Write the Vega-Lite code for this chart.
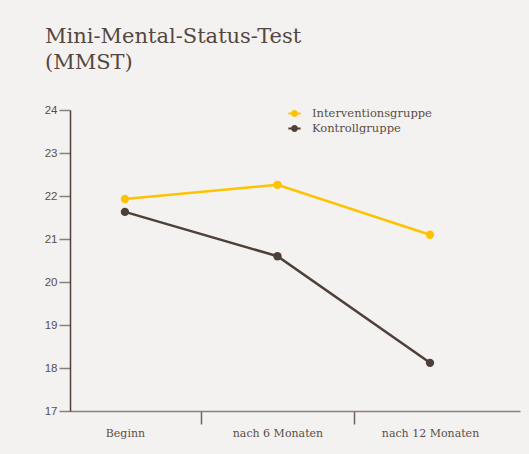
{
  "$schema": "https://vega.github.io/schema/vega-lite/v6.json",
  "autosize": "none",
  "width": 450,
  "height": 301,
  "padding": {"left": 70, "top": 110, "right": 9, "bottom": 43},
  "background": "#f4f2f0",
  "title": {
    "text": ["Mini-Mental-Status-Test", "(MMST)"],
    "anchor": "start",
    "frame": "group",
    "font": "DejaVu Serif",
    "fontSize": 21,
    "fontWeight": "normal",
    "color": "#54473f",
    "lineHeight": 26,
    "dx": -25,
    "offset": 31
  },
  "data": {
    "values": [
      {"monat": 0, "gruppe": "Interventionsgruppe", "mmst": 21.93},
      {"monat": 6, "gruppe": "Interventionsgruppe", "mmst": 22.26},
      {"monat": 12, "gruppe": "Interventionsgruppe", "mmst": 21.1},
      {"monat": 0, "gruppe": "Kontrollgruppe", "mmst": 21.63},
      {"monat": 6, "gruppe": "Kontrollgruppe", "mmst": 20.6},
      {"monat": 12, "gruppe": "Kontrollgruppe", "mmst": 18.12}
    ]
  },
  "config": {
    "view": {"stroke": null},
    "axis": {"grid": false}
  },
  "encoding": {
    "x": {
      "field": "monat",
      "type": "quantitative",
      "scale": {"domain": [-2.16, 15.54], "nice": false, "zero": false},
      "axis": {
        "title": null,
        "values": [0, 3, 6, 9, 12],
        "labelExpr": "datum.value == 0 ? 'Beginn' : datum.value == 6 ? 'nach 6 Monaten' : datum.value == 12 ? 'nach 12 Monaten' : ''",
        "labelFont": "DejaVu Serif",
        "labelFontSize": 11,
        "labelColor": "#5a4e47",
        "labelPadding": 3,
        "labelFlush": false,
        "labelOverlap": false,
        "tickSize": 13,
        "tickWidth": 1.5,
        "tickColor": "#6e625b",
        "tickOpacity": {"condition": {"test": "datum.value % 6 === 0", "value": 0}, "value": 1},
        "domainColor": "#8a7f79",
        "domainWidth": 1.5
      }
    },
    "y": {
      "field": "mmst",
      "type": "quantitative",
      "scale": {"domain": [17, 24], "nice": false, "zero": false},
      "axis": {
        "title": null,
        "values": [17, 18, 19, 20, 21, 22, 23, 24],
        "labelFont": "Liberation Sans",
        "labelFontSize": 11.5,
        "labelColor": "#5a4e47",
        "labelPadding": 2,
        "tickSize": 11,
        "tickWidth": 1.5,
        "tickColor": "#8a7f79",
        "domainColor": "#4e4039",
        "domainWidth": 1.5
      }
    },
    "color": {
      "field": "gruppe",
      "type": "nominal",
      "scale": {"domain": ["Interventionsgruppe", "Kontrollgruppe"], "range": ["#fdc300", "#4e4039"]},
      "legend": {
        "title": null,
        "orient": "none",
        "legendX": 217,
        "legendY": -4,
        "padding": 0,
        "rowPadding": 1,
        "labelFont": "DejaVu Serif",
        "labelFontSize": 11.5,
        "labelColor": "#5a4e47",
        "labelOffset": 10,
        "symbolType": "M-1,0L1,0M0,-0.4A0.4,0.4 0 1,1 0,0.4A0.4,0.4 0 1,1 0,-0.4Z",
        "symbolSize": 150,
        "symbolStrokeWidth": 2
      }
    }
  },
  "layer": [
    {"mark": {"type": "line", "strokeWidth": 2.5}},
    {"mark": {"type": "point", "filled": true, "size": 70, "opacity": 1}}
  ]
}
